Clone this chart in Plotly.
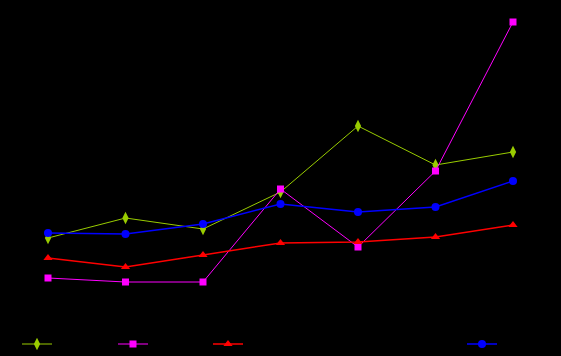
import plotly.graph_objects as go

categories = ["1", "2", "3", "4", "5", "6", "7"]
series_a = [62, 82, 71, 108, 174, 135, 148]
series_b = [22, 18, 18, 111, 53, 129, 278]
series_c = [42, 33, 45, 57, 58, 63, 75]
series_d = [67, 66, 76, 96, 88, 93, 119]
names = ["Series A", "Series B", "Series C", "Series D"]

W, H = 561, 356
ml, mr, mt, mb = 48, 48, 10, 56
pw = W - ml - mr
ph = H - mt - mb

def px_to_paper(px):
    return (px - ml) / pw

specs = [
    (series_a, names[0], "#99cc00", "diamond-tall", 1, 9, 37),
    (series_b, names[1], "#ff00ff", "square", 1, 7, 133),
    (series_c, names[2], "#ff0000", "triangle-up", 1.5, 8, 228),
    (series_d, names[3], "#0000ff", "circle", 1.5, 8, 482),
]

fig = go.Figure()
layout_legends = {}
for i, (vals, name, color, sym, lw, ms, lx) in enumerate(specs):
    key = "legend" if i == 0 else f"legend{i+1}"
    fig.add_trace(go.Scatter(
        x=list(range(len(categories))), y=vals, name=name, mode="lines+markers",
        line=dict(color=color, width=lw),
        marker=dict(symbol=sym, size=ms, color=color),
        cliponaxis=False,
        legend=key,
    ))
    layout_legends[key] = dict(
        x=px_to_paper(lx - 20), y=-(344 - (H - mb)) / ph,
        xanchor="left", yanchor="middle", orientation="h",
        bgcolor="rgba(0,0,0,0)", font=dict(color="#000000", size=11),
    )

fig.update_layout(
    width=W, height=H,
    margin=dict(l=ml, r=mr, t=mt, b=mb, autoexpand=False),
    paper_bgcolor="#000000", plot_bgcolor="#000000",
    xaxis=dict(range=[0, 6], visible=False, showgrid=False, zeroline=False),
    yaxis=dict(range=[0, 290], visible=False, showgrid=False, zeroline=False),
    showlegend=True,
    **layout_legends,
)

fig.write_html(
    "out.html",
    config={"displayModeBar": False},
    post_script="document.body.style.margin='0';document.body.style.background='#000';",
)
